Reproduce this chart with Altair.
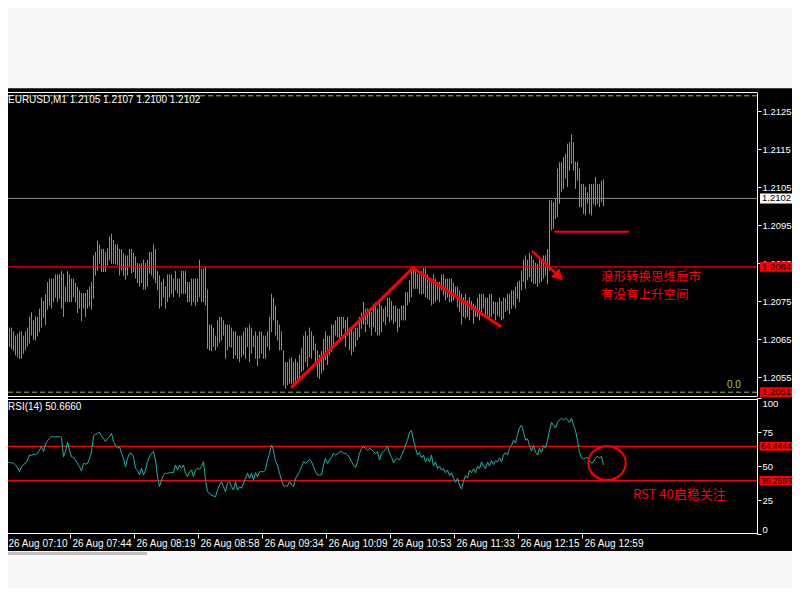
import altair as alt
import pandas as pd

# ---------------- data ----------------
SYMBOL = "EURUSD,M1"
LAST_OHLC = ["1.2105", "1.2107", "1.2100", "1.2102"]
RSI_PERIOD = 14
RSI_LAST = "50.6660"

TIME_LABELS = ["26 Aug 07:10", "26 Aug 07:44", "26 Aug 08:19", "26 Aug 08:58", "26 Aug 09:34",
               "26 Aug 10:09", "26 Aug 10:53", "26 Aug 11:33", "26 Aug 12:15", "26 Aug 12:59"]
TIME_TICK_BARS = [0, 32, 64, 96, 128, 160, 192, 224, 256, 288]
PRICE_TICKS = [1.2055, 1.2065, 1.2075, 1.2085, 1.2095, 1.2105, 1.2115, 1.2125]
RSI_TICKS = [0, 25, 50, 75, 100]

HIGH = [
    1.20730, 1.20688, 1.20680, 1.20680, 1.20670, 1.20659, 1.20664, 1.20670, 1.20670, 1.20659,
    1.20670, 1.20680, 1.20708, 1.20720, 1.20699, 1.20710, 1.20708, 1.20730, 1.20759, 1.20750,
    1.20769, 1.20800, 1.20809, 1.20809, 1.20809, 1.20820, 1.20820, 1.20820, 1.20829, 1.20822,
    1.20788, 1.20829, 1.20820, 1.20809, 1.20809, 1.20798, 1.20788, 1.20778, 1.20771, 1.20771,
    1.20771, 1.20780, 1.20788, 1.20800, 1.20870, 1.20879, 1.20909, 1.20899, 1.20887, 1.20887,
    1.20879, 1.20890, 1.20920, 1.20927, 1.20911, 1.20899, 1.20899, 1.20887, 1.20887, 1.20876,
    1.20870, 1.20870, 1.20887, 1.20887, 1.20877, 1.20867, 1.20850, 1.20848, 1.20850, 1.20859,
    1.20850, 1.20859, 1.20879, 1.20879, 1.20899, 1.20887, 1.20829, 1.20817, 1.20800, 1.20809,
    1.20788, 1.20820, 1.20820, 1.20820, 1.20809, 1.20829, 1.20809, 1.20809, 1.20829, 1.20829,
    1.20829, 1.20800, 1.20800, 1.20809, 1.20809, 1.20809, 1.20809, 1.20859, 1.20835, 1.20835,
    1.20839, 1.20780, 1.20688, 1.20688, 1.20680, 1.20659, 1.20699, 1.20708, 1.20708, 1.20699,
    1.20688, 1.20688, 1.20688, 1.20680, 1.20670, 1.20670, 1.20659, 1.20659, 1.20659, 1.20670,
    1.20680, 1.20680, 1.20688, 1.20680, 1.20659, 1.20670, 1.20659, 1.20670, 1.20670, 1.20659,
    1.20659, 1.20670, 1.20708, 1.20769, 1.20759, 1.20738, 1.20699, 1.20688, 1.20670, 1.20620,
    1.20589, 1.20589, 1.20598, 1.20601, 1.20589, 1.20598, 1.20589, 1.20609, 1.20627, 1.20659,
    1.20670, 1.20659, 1.20680, 1.20670, 1.20659, 1.20638, 1.20620, 1.20609, 1.20618, 1.20650,
    1.20670, 1.20659, 1.20659, 1.20688, 1.20688, 1.20699, 1.20708, 1.20708, 1.20708, 1.20708,
    1.20699, 1.20708, 1.20680, 1.20680, 1.20670, 1.20680, 1.20680, 1.20708, 1.20719, 1.20747,
    1.20730, 1.20730, 1.20730, 1.20721, 1.20741, 1.20747, 1.20730, 1.20747, 1.20738, 1.20730,
    1.20736, 1.20759, 1.20759, 1.20750, 1.20738, 1.20738, 1.20730, 1.20730, 1.20738, 1.20738,
    1.20773, 1.20773, 1.20804, 1.20835, 1.20837, 1.20830, 1.20820, 1.20820, 1.20829, 1.20837,
    1.20837, 1.20820, 1.20809, 1.20809, 1.20820, 1.20809, 1.20800, 1.20800, 1.20820, 1.20820,
    1.20809, 1.20809, 1.20809, 1.20809, 1.20798, 1.20788, 1.20788, 1.20778, 1.20769, 1.20760,
    1.20769, 1.20752, 1.20760, 1.20750, 1.20743, 1.20738, 1.20759, 1.20769, 1.20769, 1.20769,
    1.20759, 1.20759, 1.20769, 1.20769, 1.20750, 1.20747, 1.20747, 1.20759, 1.20750, 1.20759,
    1.20759, 1.20769, 1.20769, 1.20778, 1.20778, 1.20788, 1.20800, 1.20804, 1.20830, 1.20859,
    1.20870, 1.20859, 1.20877, 1.20870, 1.20859, 1.20850, 1.20848, 1.20859, 1.20859, 1.20870,
    1.20870, 1.20887, 1.21016, 1.21015, 1.21010, 1.21019, 1.21098, 1.21115, 1.21115, 1.21129,
    1.21137, 1.21164, 1.21168, 1.21188, 1.21168, 1.21117, 1.21117, 1.21098, 1.21058, 1.21058,
    1.21050, 1.21036, 1.21058, 1.21058, 1.21058, 1.21076, 1.21058, 1.21058, 1.21067, 1.21070,
]
LOW = [
    1.20646, 1.20618, 1.20629, 1.20624, 1.20618, 1.20607, 1.20602, 1.20598, 1.20598, 1.20611,
    1.20620, 1.20630, 1.20639, 1.20659, 1.20648, 1.20646, 1.20657, 1.20668, 1.20680, 1.20706,
    1.20686, 1.20727, 1.20738, 1.20730, 1.20747, 1.20759, 1.20747, 1.20756, 1.20730, 1.20708,
    1.20747, 1.20747, 1.20747, 1.20747, 1.20760, 1.20747, 1.20718, 1.20730, 1.20697, 1.20730,
    1.20708, 1.20730, 1.20736, 1.20727, 1.20756, 1.20817, 1.20830, 1.20848, 1.20826, 1.20826,
    1.20826, 1.20844, 1.20857, 1.20848, 1.20848, 1.20846, 1.20844, 1.20817, 1.20830, 1.20817,
    1.20806, 1.20817, 1.20839, 1.20822, 1.20826, 1.20809, 1.20797, 1.20788, 1.20797, 1.20780,
    1.20780, 1.20787, 1.20822, 1.20817, 1.20809, 1.20797, 1.20778, 1.20730, 1.20736, 1.20759,
    1.20730, 1.20747, 1.20759, 1.20769, 1.20760, 1.20778, 1.20769, 1.20760, 1.20769, 1.20769,
    1.20769, 1.20747, 1.20747, 1.20738, 1.20747, 1.20738, 1.20747, 1.20760, 1.20747, 1.20747,
    1.20738, 1.20624, 1.20620, 1.20618, 1.20629, 1.20620, 1.20629, 1.20639, 1.20646, 1.20659,
    1.20598, 1.20620, 1.20629, 1.20627, 1.20598, 1.20607, 1.20598, 1.20589, 1.20602, 1.20607,
    1.20598, 1.20629, 1.20589, 1.20611, 1.20629, 1.20598, 1.20578, 1.20598, 1.20611, 1.20598,
    1.20598, 1.20629, 1.20620, 1.20668, 1.20699, 1.20659, 1.20646, 1.20620, 1.20620, 1.20528,
    1.20519, 1.20528, 1.20532, 1.20532, 1.20524, 1.20528, 1.20541, 1.20541, 1.20563, 1.20567,
    1.20589, 1.20576, 1.20602, 1.20598, 1.20620, 1.20589, 1.20550, 1.20545, 1.20559, 1.20567,
    1.20594, 1.20581, 1.20607, 1.20616, 1.20629, 1.20659, 1.20655, 1.20642, 1.20646, 1.20677,
    1.20629, 1.20659, 1.20620, 1.20607, 1.20616, 1.20629, 1.20646, 1.20655, 1.20677, 1.20688,
    1.20668, 1.20688, 1.20680, 1.20659, 1.20681, 1.20668, 1.20659, 1.20659, 1.20668, 1.20695,
    1.20686, 1.20708, 1.20695, 1.20699, 1.20690, 1.20695, 1.20668, 1.20681, 1.20699, 1.20699,
    1.20699, 1.20738, 1.20747, 1.20760, 1.20782, 1.20782, 1.20782, 1.20769, 1.20767, 1.20769,
    1.20760, 1.20756, 1.20752, 1.20738, 1.20743, 1.20747, 1.20753, 1.20747, 1.20778, 1.20765,
    1.20752, 1.20759, 1.20747, 1.20747, 1.20752, 1.20760, 1.20734, 1.20721, 1.20688, 1.20708,
    1.20703, 1.20708, 1.20699, 1.20727, 1.20690, 1.20708, 1.20708, 1.20699, 1.20712, 1.20730,
    1.20708, 1.20712, 1.20699, 1.20708, 1.20716, 1.20699, 1.20712, 1.20708, 1.20699, 1.20703,
    1.20721, 1.20725, 1.20716, 1.20730, 1.20738, 1.20730, 1.20756, 1.20747, 1.20778, 1.20800,
    1.20782, 1.20804, 1.20813, 1.20800, 1.20795, 1.20795, 1.20787, 1.20797, 1.20800, 1.20809,
    1.20817, 1.20795, 1.20830, 1.20936, 1.20940, 1.20966, 1.20971, 1.21006, 1.21036, 1.21045,
    1.21072, 1.21050, 1.21093, 1.21111, 1.21093, 1.21045, 1.21067, 1.20997, 1.20997, 1.20979,
    1.20975, 1.21006, 1.20979, 1.20975, 1.21006, 1.21001, 1.21006, 1.20997, 1.21010, 1.21000,
]
RSI = [
    56.3, 53.2, 52.4, 52.4, 51.9, 50.7, 49.0, 45.8, 49.5, 51.2,
    51.9, 54.4, 58.1, 57.8, 58.6, 58.3, 59.3, 61.7, 64.7, 60.5,
    66.2, 68.6, 70.1, 71.5, 71.5, 71.5, 71.5, 71.5, 71.1, 56.8,
    60.5, 67.6, 61.7, 56.8, 56.3, 54.4, 51.9, 49.5, 46.3, 51.9,
    51.4, 51.9, 55.6, 60.5, 72.0, 73.5, 74.0, 75.0, 72.0, 70.3,
    67.9, 70.3, 71.5, 74.0, 67.9, 65.4, 63.0, 64.2, 59.3, 55.6,
    49.5, 55.6, 59.3, 59.3, 56.8, 48.3, 47.0, 43.4, 48.3, 43.4,
    47.0, 53.2, 56.8, 59.3, 60.5, 54.4, 42.1, 34.8, 39.7, 43.4,
    44.6, 44.6, 45.1, 45.1, 45.1, 50.7, 47.0, 50.7, 48.3, 50.7,
    44.6, 42.1, 45.8, 47.0, 42.1, 47.0, 48.3, 47.5, 49.5, 53.2,
    40.2, 31.1, 29.9, 28.7, 27.9, 27.4, 32.3, 36.0, 38.5, 34.8,
    31.1, 37.2, 38.5, 34.8, 32.3, 38.5, 32.3, 34.8, 33.6, 37.2,
    40.9, 44.6, 40.9, 44.6, 39.7, 45.1, 42.1, 45.8, 45.8, 45.8,
    47.0, 54.4, 59.3, 65.4, 61.7, 53.2, 50.7, 44.6, 39.7, 35.3,
    35.3, 35.3, 38.5, 36.0, 34.8, 40.9, 43.4, 45.8, 49.5, 53.2,
    51.9, 53.2, 54.9, 53.2, 49.5, 45.8, 43.4, 43.4, 43.4, 50.7,
    55.6, 51.9, 54.4, 56.3, 59.3, 58.1, 58.6, 60.5, 61.0, 59.3,
    59.3, 58.1, 56.3, 53.2, 50.7, 48.8, 53.2, 59.3, 63.0, 64.2,
    63.0, 61.7, 63.0, 62.2, 60.5, 59.3, 60.5, 54.4, 59.3, 60.5,
    62.2, 64.7, 59.3, 56.8, 52.4, 54.9, 55.6, 54.4, 57.8, 61.0,
    65.0, 69.0, 75.0, 76.0, 69.0, 63.0, 58.0, 60.0, 56.0, 58.0,
    53.0, 56.0, 53.0, 58.0, 50.0, 53.0, 48.0, 50.0, 47.0, 48.0,
    45.0, 47.0, 43.0, 45.0, 41.0, 38.0, 41.0, 36.0, 33.0, 39.0,
    43.0, 41.0, 47.0, 45.0, 48.0, 45.0, 50.0, 48.0, 53.0, 50.0,
    48.0, 53.0, 50.0, 54.0, 51.0, 54.0, 53.0, 56.0, 53.0, 58.0,
    60.0, 58.0, 63.0, 65.0, 69.0, 67.0, 73.0, 78.0, 80.0, 75.0,
    69.0, 70.0, 65.0, 61.0, 65.0, 60.0, 58.0, 63.0, 60.0, 65.0,
    63.0, 69.0, 76.0, 82.0, 80.0, 78.0, 82.0, 84.0, 85.0, 84.0,
    85.0, 84.0, 82.0, 85.0, 80.0, 76.0, 69.0, 60.0, 56.0, 55.0,
    56.0, 56.0, 54.0, 52.0, 53.0, 56.0, 57.0, 56.0, 57.0, 50.666,
]
assert len(HIGH) == len(LOW) == len(RSI) == 300

SUPPORT_LEVEL = 1.2084
BID_LEVEL = 1.2102
RANGE_LEVELS = [1.2051, 1.2129]
PRICE_BOX_VALUES = [1.2102, 1.2084, 1.2051]
PRICE_BOX_TEXT = ["1.2102", "1.2084", "1.2051"]
PRICE_BOX_KIND = ["bid", "level", "level"]
RSI_LEVELS = [64.4444, 39.2593]
RSI_LEVEL_TEXT = ["64.4444", "39.2593"]

# hand-drawn objects (bar index, price)
TREND_X1 = [143.25, 203.75]
TREND_Y1 = [1.20524, 1.20837]
TREND_X2 = [203.75, 247.25]
TREND_Y2 = [1.20837, 1.20684]
ARROW_FROM = [263.25, 1.20882]
ARROW_TO = [278.1, 1.20808]
ARROW_HEAD = [276.7, 1.20815]
FLAT_LINE = [274.25, 311.75, 1.20932]
NOTE_LINES = ["浪形转换思维后市", "有没有上升空间"]
NOTE_X = [297.8, 297.8]
NOTE_Y = [1.20813, 1.20766]
RSI_NOTE = "RST 40启稳关注"
RSI_NOTE_POS = [313.75, 28.7]
RSI_CIRCLE_POS = [300.75, 52.2]

# ---------------- styling ----------------
W, H = 749, 442
FONT = "Liberation Sans"
CJK = "Noto Sans CJK SC"
GREEN = "#33cc33"
RED = "#ff0000"
WHITE = "#ffffff"

x_scale = alt.Scale(domain=[0, 300], range=[-2.5, 597.5], nice=False, zero=False)
p_scale = alt.Scale(domain=[1.2050, 1.2130], range=[304, 0], nice=False, zero=False)
r_scale = alt.Scale(domain=[0, 100], range=[442, 306], nice=False, zero=False)

price_axis = alt.Axis(orient="right", values=PRICE_TICKS, format=".4f", title=None, grid=False,
                      domainColor=WHITE, tickColor=WHITE, tickSize=4, labelColor=WHITE,
                      labelFont=FONT, labelFontSize=9.5, labelPadding=1, labelOverlap=False)
rsi_axis = alt.Axis(orient="right", values=RSI_TICKS, title=None, grid=False,
                    domainColor=WHITE, tickColor=WHITE, tickSize=4, labelColor=WHITE,
                    labelFont=FONT, labelFontSize=9.5, labelPadding=1, labelOverlap=False,
                    labelFlush=True)
label_expr = " : ".join(f"datum.value == {v} ? '{t}'" for v, t in zip(TIME_TICK_BARS, TIME_LABELS)) + " : ''"
x_axis = alt.Axis(orient="bottom", values=TIME_TICK_BARS, labelExpr=label_expr, title=None,
                  grid=False, domain=False, tickColor=WHITE, tickSize=4, labelColor=WHITE,
                  labelFont=FONT, labelFontSize=10, labelAlign="left", labelFlush=False,
                  labelOverlap=False, labelPadding=0, labelOffset=2.5)

# every layer carries the same axis definition so that the shared axes merge cleanly
X = lambda f: alt.X(f, type="quantitative", scale=x_scale, axis=x_axis)
PY = lambda f: alt.Y(f, type="quantitative", scale=p_scale, axis=price_axis)
RY = lambda f: alt.Y(f, type="quantitative", scale=r_scale, axis=rsi_axis)

one = pd.DataFrame({"a": [0]})
bars_df = pd.DataFrame({"k": list(range(len(HIGH))), "high": HIGH, "low": LOW, "rsi": RSI})

# ---------------- price panel ----------------
bars = alt.Chart(bars_df).mark_rule(color=GREEN, strokeWidth=1).encode(
    x=X("k"), y=PY("low"), y2="high:Q")

range_df = pd.DataFrame({"v": RANGE_LEVELS})
range_lines = alt.Chart(range_df).mark_rule(color="#9acd32", strokeDash=[5, 3], strokeWidth=1).encode(y=PY("v"))
bid_line = alt.Chart(pd.DataFrame({"v": [BID_LEVEL]})).mark_rule(color="#8c8c8c", strokeWidth=1).encode(y=PY("v"))
support_line = alt.Chart(pd.DataFrame({"v": [SUPPORT_LEVEL]})).mark_rule(color=RED, strokeWidth=1.3).encode(y=PY("v"))

trend_df = pd.DataFrame({"x1": TREND_X1, "y1": TREND_Y1, "x2": TREND_X2, "y2": TREND_Y2})
trends = alt.Chart(trend_df).mark_rule(color=RED, strokeWidth=3, strokeCap="round").encode(
    x=X("x1"), y=PY("y1"), x2="x2:Q", y2="y2:Q")
arrow_df = pd.DataFrame({"x1": [ARROW_FROM[0]], "y1": [ARROW_FROM[1]], "x2": [ARROW_TO[0]], "y2": [ARROW_TO[1]]})
arrow = alt.Chart(arrow_df).mark_rule(color=RED, strokeWidth=2.5).encode(
    x=X("x1"), y=PY("y1"), x2="x2:Q", y2="y2:Q")
head = alt.Chart(pd.DataFrame({"x": [ARROW_HEAD[0]], "y": [ARROW_HEAD[1]]})).mark_point(
    shape="triangle-up", filled=True, size=150, angle=134, color=RED, opacity=1).encode(x=X("x"), y=PY("y"))
flat_df = pd.DataFrame({"x1": [FLAT_LINE[0]], "x2": [FLAT_LINE[1]], "y": [FLAT_LINE[2]]})
flat = alt.Chart(flat_df).mark_rule(color=RED, strokeWidth=2).encode(x=X("x1"), x2="x2:Q", y=PY("y"))

note_df = pd.DataFrame({"x": NOTE_X, "y": NOTE_Y, "t": NOTE_LINES})
notes = alt.Chart(note_df).mark_text(align="left", baseline="middle", font=CJK, fontSize=12.5,
                                     color=RED).encode(x=X("x"), y=PY("y"), text="t:N")

pbox_df = pd.DataFrame({"v": PRICE_BOX_VALUES, "t": PRICE_BOX_TEXT, "kind": PRICE_BOX_KIND})
pboxes = alt.Chart(pbox_df).mark_tick(orient="horizontal", thickness=10, size=35, opacity=1).encode(
    x=alt.value(769.5), y=PY("v"),
    color=alt.Color("kind:N", scale=alt.Scale(domain=["bid", "level"], range=[WHITE, RED]), legend=None))
pbox_text = alt.Chart(pbox_df).mark_text(align="left", baseline="middle", font=FONT, fontSize=9.5,
                                         color="#000000").encode(x=alt.value(754), y=PY("v"), text="t:N")

header = alt.Chart(one).mark_text(align="left", baseline="middle", font=FONT, fontSize=10, color=WHITE).encode(
    x=alt.value(0), y=alt.value(8), text=alt.value(SYMBOL + "  " + " ".join(LAST_OHLC)))
zero_txt = alt.Chart(one).mark_text(align="left", baseline="middle", font=FONT, fontSize=10,
                                    color="#9acd32").encode(x=alt.value(719), y=alt.value(293), text=alt.value("0.0"))

price_panel = alt.layer(bars, range_lines, bid_line, support_line, trends, arrow, head, flat,
                        notes, pboxes, pbox_text, header, zero_txt)

# ---------------- RSI panel ----------------
rsi_lines_df = pd.DataFrame({"v": RSI_LEVELS, "t": RSI_LEVEL_TEXT})
rsi_levels = alt.Chart(rsi_lines_df).mark_rule(color=RED, strokeWidth=1.3).encode(y=RY("v"))
rsi_line = alt.Chart(bars_df).mark_line(color="#20b2aa", strokeWidth=1).encode(x=X("k"), y=RY("rsi"))
ellipse = alt.Chart(pd.DataFrame({"x": [RSI_CIRCLE_POS[0]], "y": [RSI_CIRCLE_POS[1]]})).mark_point(
    shape="M -1 0 A 1 0.9 0 1 1 1 0 A 1 0.9 0 1 1 -1 0 Z", size=1399, filled=False,
    strokeWidth=2, color=RED, opacity=1).encode(x=X("x"), y=RY("y"))
rboxes = alt.Chart(rsi_lines_df).mark_tick(orient="horizontal", thickness=9, size=38, color=RED, opacity=1).encode(
    x=alt.value(770.5), y=RY("v"))
rbox_text = alt.Chart(rsi_lines_df).mark_text(align="left", baseline="middle", font=FONT, fontSize=8.5,
                                              color="#000000").encode(x=alt.value(753), y=RY("v"), text="t:N")
rsi_title = alt.Chart(one).mark_text(align="left", baseline="middle", font=FONT, fontSize=10, color=WHITE).encode(
    x=alt.value(0), y=alt.value(315), text=alt.value(f"RSI({RSI_PERIOD}) {RSI_LAST}"))
rsi_note = alt.Chart(pd.DataFrame({"x": [RSI_NOTE_POS[0]], "y": [RSI_NOTE_POS[1]], "t": [RSI_NOTE]})).mark_text(
    align="left", baseline="middle", font=CJK, fontSize=13, color=RED).encode(x=X("x"), y=RY("y"), text="t:N")

rsi_panel = alt.layer(rsi_levels, rsi_line, ellipse, rboxes, rbox_text, rsi_title, rsi_note)

# ---------------- window decoration ----------------
def band(x1, x2, y1, y2, color):
    return alt.Chart(one).mark_rect(color=color, opacity=1).encode(
        x=alt.value(x1), x2=alt.value(x2), y=alt.value(y1), y2=alt.value(y2))

def hline(y, color):
    return alt.Chart(one).mark_rule(color=color, strokeWidth=1).encode(
        x=alt.value(-4), x2=alt.value(W), y=alt.value(y))

decor = alt.layer(
    band(-10, W + 60, -90, -4, "#f8f8f8"),
    band(-10, W + 60, -4, -3, "#404040"),
    band(-10, W + 60, 459, 520, "#f8f8f8"),
    band(-10, 139, 460, 463, "#c0c0c0"),
    hline(0.5, WHITE), hline(304.5, WHITE), hline(307.5, WHITE), hline(441.5, WHITE),
)

chart = alt.layer(decor, price_panel, rsi_panel).resolve_scale(y="independent").properties(
    width=W, height=H,
    autosize=alt.AutoSizeParams(type="none"),
    padding={"left": 0, "top": 84, "right": 35, "bottom": 54},
).configure(background="#000000").configure_view(stroke="transparent")

chart.save("out.html", embed_options={"renderer": "svg", "actions": False})
